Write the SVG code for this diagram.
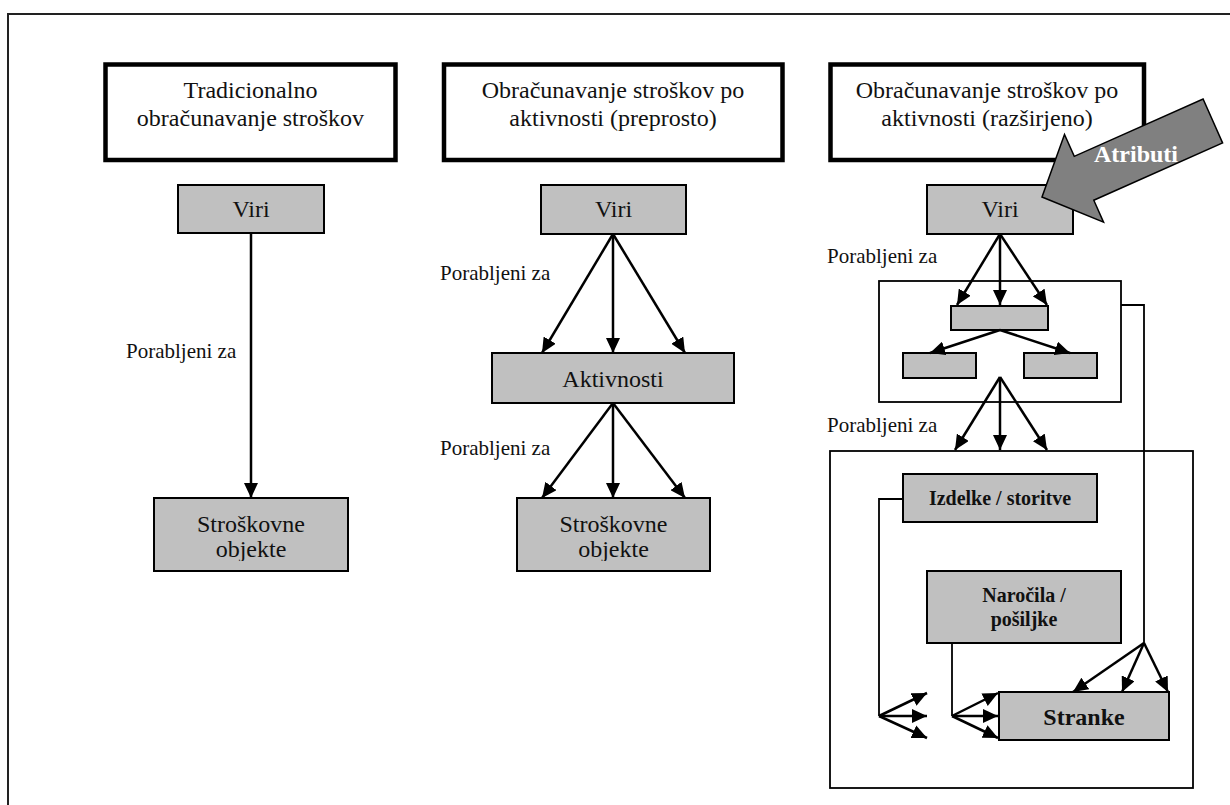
<svg xmlns="http://www.w3.org/2000/svg" width="1230" height="805" viewBox="0 0 1230 805">
  <style>
    .frame { fill: none; stroke: #222; stroke-width: 2; }
    .head { fill: #fff; stroke: #000; stroke-width: 4.5; }
    .node { fill: #c0c0c0; stroke: #000; stroke-width: 2; }
    .group { fill: none; stroke: #000; stroke-width: 1.8; }
    .t { font-family: "Liberation Serif", "Times New Roman", serif; font-size: 24px; fill: #111; text-anchor: middle; }
    .lbl { font-family: "Liberation Serif", "Times New Roman", serif; font-size: 21px; fill: #111; }
    .b { font-family: "Liberation Serif", "Times New Roman", serif; font-weight: bold; fill: #111; text-anchor: middle; }
    .edge { fill: none; stroke: #000; stroke-width: 2.5; }
    .arr { marker-end: url(#ah); }
    .thin { fill: none; stroke: #000; stroke-width: 1.8; }
  </style>
  <defs>
    <marker id="ah" markerUnits="userSpaceOnUse" markerWidth="16" markerHeight="14" refX="15" refY="7" orient="auto">
      <path d="M0,0 L15,7 L0,14 z" fill="#000"/>
    </marker>
    <clipPath id="clip1"><rect x="154" y="498" width="194" height="63"/></clipPath>
    <clipPath id="clip2"><rect x="517" y="498" width="193" height="63"/></clipPath>
  </defs>

  <rect width="1230" height="805" fill="#fff"/>
  <!-- outer frame -->
  <rect class="frame" x="8" y="14" width="1240" height="800"/>

  <!-- column 1: traditional costing -->
  <g id="head1">
    <rect class="head" x="105.5" y="64.5" width="290" height="95.5"/>
    <text class="t" x="250.5" y="98">Tradicionalno</text>
    <text class="t" x="250.5" y="126">obračunavanje stroškov</text>
  </g>
  <g id="viri1">
    <rect class="node" x="178" y="185" width="146" height="48"/>
    <text class="t" x="251" y="217">Viri</text>
  </g>
  <g id="objekti1">
    <rect class="node" x="154" y="498" width="194" height="73"/>
    <g clip-path="url(#clip1)">
      <text class="t" x="251" y="532">Stroškovne</text>
      <text class="t" x="251" y="557">objekte</text>
    </g>
  </g>

  <!-- column 2: activity-based (simple) -->
  <g id="head2">
    <rect class="head" x="444" y="64.5" width="338.5" height="95.5"/>
    <text class="t" x="613" y="98">Obračunavanje stroškov po</text>
    <text class="t" x="613" y="126">aktivnosti (preprosto)</text>
  </g>
  <g id="viri2">
    <rect class="node" x="541" y="185" width="145" height="49"/>
    <text class="t" x="613.5" y="217">Viri</text>
  </g>
  <g id="aktivnosti2">
    <rect class="node" x="492" y="353" width="242" height="50"/>
    <text class="t" x="613" y="387">Aktivnosti</text>
  </g>
  <g id="objekti2">
    <rect class="node" x="517" y="498" width="193" height="73"/>
    <g clip-path="url(#clip2)">
      <text class="t" x="613.5" y="532">Stroškovne</text>
      <text class="t" x="613.5" y="557">objekte</text>
    </g>
  </g>

  <!-- column 3: activity-based (extended) -->
  <g id="head3">
    <rect class="head" x="830.5" y="64.5" width="313.5" height="95.5"/>
    <text class="t" x="987" y="98">Obračunavanje stroškov po</text>
    <text class="t" x="987" y="126">aktivnosti (razširjeno)</text>
  </g>
  <g id="viri3">
    <rect class="node" x="927" y="185" width="146" height="49"/>
    <text class="t" x="1000" y="217">Viri</text>
  </g>
  <g id="aktivnosti3">
    <rect class="group" x="879" y="281" width="242" height="121"/>
    <rect class="node" x="951" y="306" width="97" height="24"/>
    <rect class="node" x="903" y="353" width="73" height="25"/>
    <rect class="node" x="1024" y="353" width="73" height="25"/>
  </g>
  <g id="objekti3">
    <rect class="group" x="830" y="451" width="363" height="337"/>
  </g>
  <g id="izdelki">
    <rect class="node" x="903" y="474" width="194" height="48"/>
    <text class="b" x="1000" y="505" font-size="20">Izdelke / storitve</text>
  </g>
  <g id="narocila">
    <rect class="node" x="927" y="571" width="194" height="72"/>
    <text class="b" x="1024" y="602" font-size="20">Naročila /</text>
    <text class="b" x="1024" y="626" font-size="20">pošiljke</text>
  </g>
  <g id="stranke">
    <rect class="node" x="999" y="692" width="170" height="48"/>
    <text class="b" x="1084" y="725" font-size="24">Stranke</text>
  </g>

  <!-- edge labels -->
  <g id="labels">
    <text class="lbl" x="126" y="358">Porabljeni za</text>
    <text class="lbl" x="440" y="280">Porabljeni za</text>
    <text class="lbl" x="440" y="455">Porabljeni za</text>
    <text class="lbl" x="827" y="263">Porabljeni za</text>
    <text class="lbl" x="827" y="432">Porabljeni za</text>
  </g>

  <!-- connectors -->
  <g id="connectors">
    <line class="edge arr" x1="251" y1="233" x2="251" y2="498"/>

    <line class="edge arr" x1="613" y1="234" x2="542" y2="353"/>
    <line class="edge arr" x1="613" y1="234" x2="613" y2="353"/>
    <line class="edge arr" x1="613" y1="234" x2="685" y2="353"/>
    <line class="edge arr" x1="613" y1="403" x2="542" y2="498"/>
    <line class="edge arr" x1="613" y1="403" x2="613" y2="498"/>
    <line class="edge arr" x1="613" y1="403" x2="685" y2="498"/>

    <line class="edge arr" x1="1000" y1="234" x2="957" y2="305"/>
    <line class="edge arr" x1="1000" y1="234" x2="1000" y2="305"/>
    <line class="edge arr" x1="1000" y1="234" x2="1047" y2="305"/>
    <line class="edge arr" x1="1000" y1="330" x2="930" y2="353"/>
    <line class="edge arr" x1="1000" y1="330" x2="1070" y2="353"/>
    <line class="edge arr" x1="1000" y1="377" x2="955" y2="450"/>
    <line class="edge arr" x1="1000" y1="377" x2="1000" y2="450"/>
    <line class="edge arr" x1="1000" y1="377" x2="1047" y2="450"/>

    <!-- activities to customers -->
    <polyline class="thin" points="1121,305 1144,305 1144,643"/>
    <line class="edge arr" x1="1144" y1="643" x2="1073" y2="692"/>
    <line class="edge arr" x1="1144" y1="643" x2="1122" y2="692"/>
    <line class="edge arr" x1="1144" y1="643" x2="1168" y2="692"/>

    <!-- products -->
    <polyline class="thin" points="903,499 879,499 879,716"/>
    <line class="edge arr" x1="879" y1="716" x2="927" y2="693"/>
    <line class="edge arr" x1="879" y1="716" x2="927" y2="716"/>
    <line class="edge arr" x1="879" y1="716" x2="927" y2="738"/>

    <!-- orders -->
    <line class="thin" x1="952" y1="643" x2="952" y2="716"/>
    <line class="edge arr" x1="952" y1="716" x2="998" y2="693"/>
    <line class="edge arr" x1="952" y1="716" x2="998" y2="716"/>
    <line class="edge arr" x1="952" y1="716" x2="998" y2="738"/>
  </g>

  <!-- attributes block arrow -->
  <g id="atributi">
    <polygon transform="translate(1042,197) rotate(-24)" points="0,0 46,-48 46,-24 187,-24 187,24 46,24 46,48" fill="#808080" stroke="#000" stroke-width="1.5"/>
    <text class="b" x="1136" y="162" font-size="24" fill="#fff" style="fill:#fff">Atributi</text>
  </g>
</svg>
